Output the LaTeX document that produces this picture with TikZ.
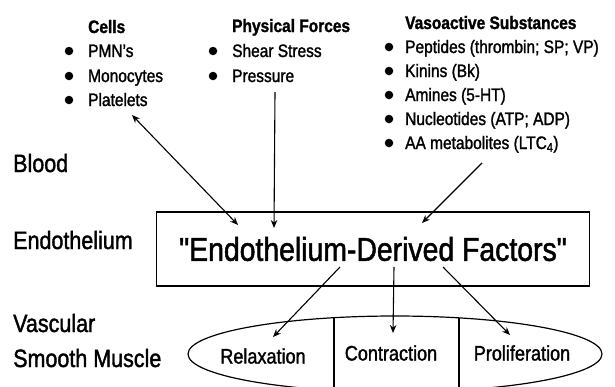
\documentclass[tikz,border=0pt]{standalone}
\usepackage{fontspec}
\setmainfont{Liberation Sans}[FakeStretch=0.86, FakeBold=1.5]
\newfontfamily\plainq{Liberation Sans}[FakeStretch=0.86, FakeBold=1.5, Ligatures=TeXOff]
\usetikzlibrary{arrows.meta,shapes.geometric}
\begin{document}
\begin{tikzpicture}[x=1pt,y=-1pt,
  item/.style={anchor=base west, inner sep=0pt, font=\fontsize{18}{20}\selectfont},
  head/.style={anchor=base west, inner sep=0pt, font=\fontsize{18}{20}\selectfont\bfseries},
  side/.style={anchor=base west, inner sep=0pt, font=\fontsize{25}{28}\selectfont},
  part/.style={inner sep=0pt, font=\fontsize{21}{23}\selectfont},
  dot/.style={circle, fill=black, inner sep=0pt, minimum size=8.5pt},
  arr/.style={-{Stealth[length=8pt,width=6.5pt]}, line width=1.1pt},
  darr/.style={{Stealth[length=8pt,width=6.5pt]}-{Stealth[length=8pt,width=6.5pt]}, line width=1.1pt},
  thin/.style={line width=1.2pt}]
\useasboundingbox (0,0) rectangle (615,386);

% Cells column
\node[head] (cellsH) at (88,33) {Cells};
\node[dot] (c1) at (69,51) {}; \node[item] (pmn) at (88,57) {PMN's};
\node[dot] (c2) at (69,76) {}; \node[item] (mono) at (88,82) {Monocytes};
\node[dot] (c3) at (69,100) {}; \node[item] (plate) at (88,106) {Platelets};

% Physical forces column
\node[head] (physH) at (232,32) {Physical Forces};
\node[dot] (p1) at (213,51) {}; \node[item] (shear) at (232,57) {Shear Stress};
\node[dot] (p2) at (213,76) {}; \node[item] (press) at (232,82) {Pressure};

% Vasoactive column
\node[head] (vasoH) at (405,29) {Vasoactive Substances};
\node[dot] (v1) at (389,47) {}; \node[item] (pept) at (405,53) {Peptides (thrombin; SP; VP)};
\node[dot] (v2) at (389,71) {}; \node[item] (kin) at (405,77) {Kinins (Bk)};
\node[dot] (v3) at (389,95) {}; \node[item] (amin) at (405,101) {Amines (5-HT)};
\node[dot] (v4) at (389,119) {}; \node[item] (nucl) at (405,125) {Nucleotides (ATP; ADP)};
\node[dot] (v5) at (389,143) {}; \node[item] (aa) at (405,149) {AA metabolites (LTC\textsubscript{4})};

% Side labels
\node[side] (blood) at (13,172) {Blood};
\node[side] (endo) at (13,249) {Endothelium};
\node[side] (vasc) at (13,332) {Vascular};
\node[side] (smooth) at (13,367) {Smooth Muscle};

% Endothelium box
\node[draw, thin, minimum width=433pt, minimum height=74pt, inner sep=0pt,
      font=\plainq\fontsize{33}{35}\selectfont] (box) at (373,249) {"Endothelium-Derived Factors"};

% Smooth muscle ellipse (cut by the lower edge)
\begin{scope}
\clip (0,0) rectangle (615,386);
\node[ellipse, draw, thin, minimum width=414pt, minimum height=76pt, inner sep=0pt] (ell) at (395,354) {};
\coordinate (l1t) at (334,318); \coordinate (l1b) at (334,392);
\coordinate (l2t) at (459,318); \coordinate (l2b) at (459,392);
\draw[thin] (l1t) -- (l1b);
\draw[thin] (l2t) -- (l2b);
\end{scope}
\node[part] (relax) at (263,356) {Relaxation};
\node[part] (contr) at (391,353) {Contraction};
\node[part] (prolif) at (522,353) {Proliferation};

% Arrows into endothelium
\coordinate (a1s) at (132,115); \coordinate (a1e) at (238,225);
\coordinate (a2s) at (275,92);  \coordinate (a2e) at (274,228);
\coordinate (a3s) at (482,163); \coordinate (a3e) at (422,223);
\draw[darr] (a1s) -- (a1e);
\draw[arr] (a2s) -- (a2e);
\draw[arr] (a3s) -- (a3e);

% Arrows to smooth muscle
\coordinate (b1s) at (340,267); \coordinate (b1e) at (273,337);
\coordinate (b2s) at (394,267); \coordinate (b2e) at (393,333);
\coordinate (b3s) at (443,267); \coordinate (b3e) at (510,335);
\draw[arr] (b1s) -- (b1e);
\draw[arr] (b2s) -- (b2e);
\draw[arr] (b3s) -- (b3e);
\end{tikzpicture}
\end{document}
